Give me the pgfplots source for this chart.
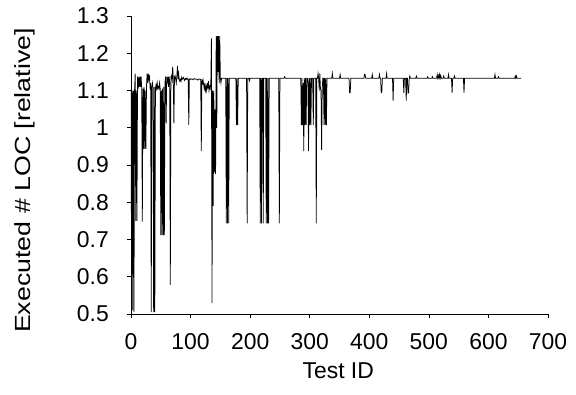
\documentclass[border=0pt]{standalone}
\usepackage{fontspec}
\setmainfont{Liberation Sans}
\usepackage{graphicx}
\usepackage{pgfplots}
\pgfplotsset{compat=1.18}
\begin{document}
\begin{tikzpicture}
\useasboundingbox (-131bp,-81bp) rectangle (445bp,314bp);
\begin{axis}[
  at={(0,0)}, anchor=south west,
  scale only axis, width=417bp, height=298bp,
  xmin=0, xmax=700, ymin=0.5, ymax=1.3,
  axis lines*=left,
  axis line style={line width=0.6bp},
  tick align=outside,
  major tick length=4bp,
  tick style={line width=0.6bp, black},
  xtick={0,100,200,300,400,500,600,700},
  ytick={0.5,0.6,0.7,0.8,0.9,1,1.1,1.2,1.3},
  /pgf/number format/assume math mode=true,
  tick label style={font=\fontsize{23}{27}\selectfont},
  xticklabel style={anchor=north, inner sep=0pt, yshift=-15bp},
  yticklabel style={anchor=east, inner sep=0pt, xshift=-18bp},
  label style={font=\fontsize{22}{26}\selectfont},
  xlabel={\fontsize{23}{27}\selectfont Test ID},
  ylabel={\scalebox{1.22}[1]{Executed \# LOC [relative]}},
  xlabel style={at={(axis description cs:0.497,-0.215)}, anchor=base, inner sep=0pt},
  ylabel style={at={(axis description cs:-0.254,0.448)}, anchor=center, inner sep=0pt},
]
\addplot[black, line width=0.75bp] coordinates {
(0,1.10) (1,0.58) (2,1.10) (3,0.51) (4,1.10) (5,0.505) (6,1.10) (7,1.145) (8,0.75) (9,1.10)
(10,0.75) (11,1.137) (12,1.105) (13,1.137) (14,1.11) (15,1.137) (16,1.11) (17,1.137) (18,1.105) (19,0.748)
(20,1.105) (21,0.943) (22,1.11) (23,0.943) (24,1.10) (25,0.943) (26,1.11) (27,1.145) (28,1.12) (29,1.145)
(30,1.13) (31,1.137) (32,1.11) (33,1.12) (34,0.505) (35,1.11) (36,1.12) (37,1.105) (38,0.505) (39,1.11)
(40,0.505) (41,1.105) (42,1.115) (43,1.105) (44,1.12) (45,1.105) (46,1.11) (47,1.105) (48,1.12) (49,1.105)
(50,0.712) (51,1.10) (52,0.712) (53,1.105) (54,0.712) (55,1.11) (56,0.712) (57,1.12) (58,1.137) (59,1.012)
(60,1.137) (61,1.12) (62,1.137) (63,1.11) (64,1.137) (65,1.12) (66,0.578) (67,1.137) (68,1.14) (69,1.13)
(70,1.164) (71,1.13) (72,1.012) (73,1.137) (74,1.14) (75,1.13) (76,1.12) (77,1.14) (78,1.166) (79,1.13)
(80,1.145) (81,1.13) (82,1.125) (83,1.13) (84,1.125) (85,1.135) (86,1.13) (87,1.133) (88,1.135) (89,1.13)
(90,1.127) (91,1.132) (92,1.13) (93,1.133) (94,1.13) (95,1.132) (96,1.13) (97,1.008) (98,1.13) (99,1.132)
(100,1.13) (102,1.131) (104,1.129) (106,1.132) (108,1.13) (110,1.131) (112,1.128) (114,1.131) (116,1.13) (117,1.13)
(118,0.937) (119,1.13) (120,1.12) (121,1.128) (122,1.115) (123,1.105) (124,1.12) (125,1.10) (126,1.11) (127,1.10)
(128,1.12) (129,1.105) (130,1.125) (131,1.10) (132,1.11) (133,1.105) (134,1.12) (135,1.24) (136,0.529) (137,1.10)
(138,0.79) (139,1.10) (140,0.88) (141,1.048) (142,0.876) (143,1.246) (144,1.00) (145,1.246) (146,1.15) (147,1.246)
(148,1.12) (149,1.246) (150,1.133) (151,1.12) (152,1.133)
(159,1.133) (160,0.743) (161,1.133) (162,0.743) (163,1.133) (164,0.743) (165,1.133)
(176,1.133) (177,1.007) (178,1.133) (179,1.007) (180,1.133)
(194,1.133) (195,0.743) (196,1.133) (198,1.133) (199,1.126) (200,1.133)
(216,1.133) (217,0.743) (218,1.133) (219,0.743) (220,1.133) (221,1.133) (222,0.743) (223,1.133)
(226,1.133) (227,0.743) (228,1.133) (229,0.743) (230,1.133) (231,0.743) (232,1.133)
(248,1.133) (249,0.743) (250,1.133) (257,1.133) (258,1.137) (259,1.133)
(285,1.133) (286,1.007) (287,1.133) (288,1.007) (289,1.12) (290,0.937) (291,1.133) (292,1.007) (293,1.133) (294,1.007)
(295,1.133) (296,1.133) (297,1.12) (298,0.937) (299,1.133) (300,1.007) (301,1.133) (302,1.007) (303,1.133) (305,1.133) (306,1.007) (307,1.133)
(310,1.133) (311,0.743) (312,1.133) (313,1.133) (314,1.146) (315,1.133) (316,1.10) (317,1.146) (318,1.105) (319,1.10)
(320,0.94) (321,1.105) (322,1.133) (323,1.133) (324,1.007) (325,1.133) (326,1.007) (327,1.133) (328,1.007) (329,1.133)
(337,1.133) (338,1.146) (339,1.133) (350,1.133) (351,1.143) (352,1.133)
(366,1.133) (367,1.094) (368,1.094) (369,1.133)
(391,1.133) (392,1.143) (393,1.143) (394,1.133) (404,1.133) (405,1.143) (406,1.133)
(416,1.133) (417,1.143) (418,1.133) (419,1.133) (420,1.094) (421,1.094) (422,1.133)
(428,1.133) (429,1.146) (430,1.133) (439,1.133) (440,1.073) (441,1.133)
(457,1.133) (458,1.093) (459,1.133) (461,1.133) (462,1.073) (463,1.133) (464,1.133) (465,1.093) (466,1.093) (467,1.133) (468,1.139) (469,1.133)
(478,1.133) (479,1.139) (480,1.133) (497,1.133) (498,1.137) (499,1.133) (505,1.133) (506,1.137) (507,1.133)
(513,1.133) (514,1.143) (515,1.133) (516,1.14) (517,1.133) (518,1.143) (519,1.133) (520,1.14) (521,1.133)
(524,1.133) (525,1.139) (526,1.133) (532,1.133) (533,1.143) (534,1.133)
(538,1.133) (539,1.094) (540,1.133) (542,1.133) (543,1.139) (544,1.133)
(558,1.133) (559,1.094) (560,1.133)
(610,1.133) (611,1.143) (612,1.133) (616,1.133) (617,1.137) (618,1.133)
(644,1.133) (645,1.139) (646,1.133) (647,1.139) (648,1.133) (655,1.133)
};
\end{axis}
\end{tikzpicture}
\end{document}
